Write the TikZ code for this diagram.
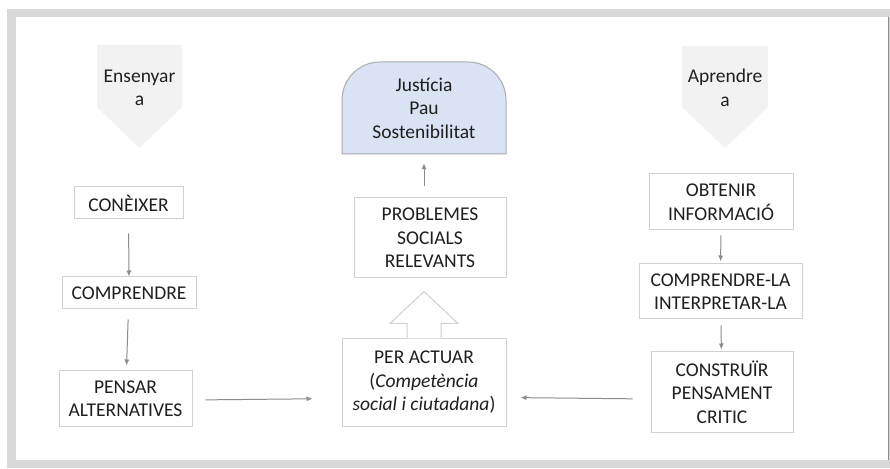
\documentclass[tikz,border=0pt]{standalone}
\usepackage{fontspec}
\setmainfont{Carlito}
\usepackage{tikz}
\usetikzlibrary{arrows.meta,calc,positioning}
\definecolor{framegray}{HTML}{D9D9D9}
\definecolor{edgegray}{HTML}{8A8A8A}
\definecolor{boxgray}{HTML}{D0D0D0}
\definecolor{arrowgray}{HTML}{8C8C8C}
\definecolor{chevgray}{HTML}{F2F2F2}
\definecolor{domeblue}{HTML}{DAE3F3}
\definecolor{domeedge}{HTML}{ABABAB}
\definecolor{textgray}{HTML}{1F1F1F}
\tikzset{caixa/.style={draw=boxgray, fill=white, line width=1pt, align=center, inner sep=0pt,
text=textgray, font=\fontsize{19.5}{23.5}\selectfont},
rotul/.style={align=center, inner sep=0pt, text=textgray, font=\fontsize{19.5}{23.5}\selectfont},
fletxa/.style={draw=arrowgray, line width=1pt, -{Latex[length=6pt,width=5pt]}}}

\begin{document}
\begin{tikzpicture}[x=1pt,y=1pt]

% the frame

    \useasboundingbox (0,0) rectangle (890,468);
    \fill[framegray] (7,0) rectangle (890,459);
    \fill[white] (16,8) rectangle (888,451);
    \draw[edgegray, line width=1.2pt] (888.4,8) -- (888.4,451);

% the two heads

    \fill[chevgray] (97,423) -- (182,423) -- (182,361) -- (139.5,320) -- (97,361) -- cycle;
    \node[rotul] (ens) at (139.5,380) {Ensenyar\\a};
    \fill[chevgray] (682,422) -- (768,422) -- (768,361) -- (725,320) -- (682,361) -- cycle;
    \node[rotul] (apr) at (725,380) {Aprendre\\a};

% the left column

    \node[caixa, minimum width=109, minimum height=32] (con) at (128.5,265) {CONÈIXER};
    \node[caixa, minimum width=134, minimum height=32] (comp) at (129,175) {COMPRENDRE};
    \node[caixa, minimum width=133, minimum height=55] (pens) at (125.5,69.5) {PENSAR\\ALTERNATIVES};

% the middle column

    \draw[fill=domeblue, draw=domeedge, line width=1pt] (342,314) -- (342,368)
    arc[start angle=180, end angle=90, radius=38] -- (468,406)
    arc[start angle=90, end angle=0, radius=38] -- (506,314) -- cycle;
    \node[rotul, minimum width=164, minimum height=92] (just) at (424,360)
    {Justícia\\Pau\\Sostenibilitat};
    \node[caixa, minimum width=152, minimum height=80] (probl) at (430,230)
    {PROBLEMES\\SOCIALS\\RELEVANTS};
    \node[caixa, minimum width=164, minimum height=87] (actuar) at (424,85.5)
    {PER ACTUAR\\(\textit{Competència}\\\textit{social i ciutadana})};
    \draw[draw=boxgray, fill=white, line width=1pt] ($(actuar.north)+(-17,0)$) -- ++(0,15)
    -- ++(-17,0) -- ($(actuar.north)+(0,47)$) -- ($(actuar.north)+(34,15)$)
    -- ++(-17,0) -- ($(actuar.north)+(17,0)$);

% the right column

    \node[caixa, minimum width=144, minimum height=56] (obt) at (721,266) {OBTENIR\\INFORMACIÓ};
    \node[caixa, minimum width=163, minimum height=55] (compla) at (720.5,176.5)
    {COMPRENDRE-LA\\INTERPRETAR-LA};
    \node[caixa, minimum width=142, minimum height=80] (constr) at (722,76)
    {CONSTRUÏR\\PENSAMENT\\CRITIC};

% the arrows

    \draw[fletxa, shorten <=14pt] (con) -- (comp);
    \draw[fletxa, shorten <=10pt, shorten >=5pt] (comp) -- (pens);
    \draw[fletxa, shorten <=13pt, shorten >=29pt] ($(pens.east)+(0,-1.5)$) -- ($(actuar.west)+(0,-16)$);
    \draw[fletxa, shorten <=18pt, shorten >=14pt] ($(constr.west)+(0,-7)$) -- ($(actuar.east)+(0,-15)$);
    \draw[fletxa, shorten <=5pt, shorten >=2pt] (obt) -- (compla);
    \draw[fletxa, shorten <=6pt, shorten >=2pt] (compla) -- (constr);
    \draw[fletxa, shorten <=11pt, shorten >=9pt] ($(probl.north)+(-6,0)$) -- ($(just.south)+(0,0)$);

\end{tikzpicture}
\end{document}
